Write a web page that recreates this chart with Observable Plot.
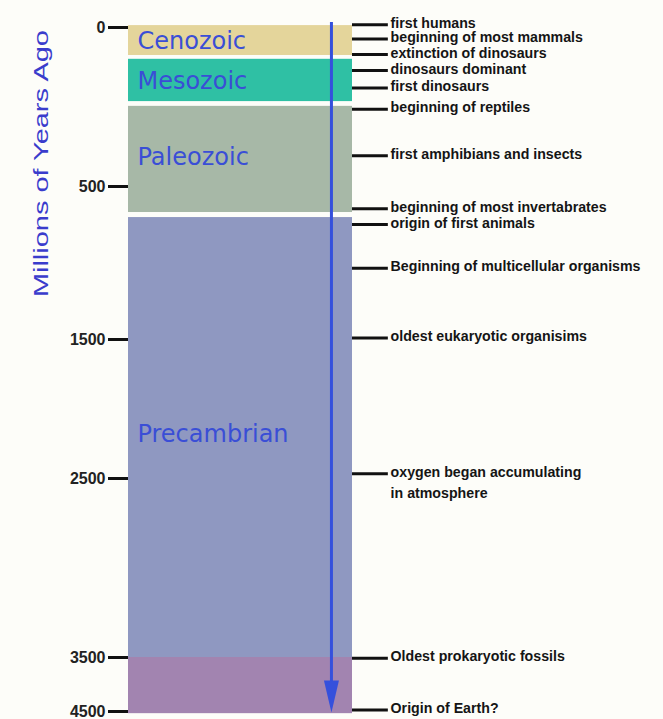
<!DOCTYPE html>
<html><head><meta charset="utf-8">
<script src="https://cdn.jsdelivr.net/npm/d3@7"></script>
<script src="https://cdn.jsdelivr.net/npm/@observablehq/plot@0.6"></script>
<style>
html,body{margin:0;padding:0;background:#fdfdf9;}
#chart svg{display:block;background:#fdfdf9;}
</style></head><body><div id="chart"></div>
<script>
// ---- data ----
const eraNames   = ["Cenozoic", "Mesozoic", "Paleozoic", "Precambrian", ""];
const eraStart   = [-6, 100, 248, 703, 3500];
const eraEnd     = [88, 233, 670, 3500, 4540];
const eraLabelAt = [44, 170, 409, 2183, null];
const eraColors  = ["#e4d59b", "#2fc0a4", "#a7b8a7", "#8f98c1", "#a284b0"];

const eventNames = [
  "first humans",
  "beginning of most mammals",
  "extinction of dinosaurs",
  "dinosaurs dominant",
  "first dinosaurs",
  "beginning of reptiles",
  "first amphibians and insects",
  "beginning of most invertabrates",
  "origin of first animals",
  "Beginning of multicellular organisms",
  "oldest eukaryotic organisims",
  "oxygen began accumulating\nin atmosphere",
  "Oldest prokaryotic fossils",
  "Origin of Earth?"
];
const eventAges = [-9, 36, 85, 135, 190, 257, 403, 646, 748, 1034, 1491, 2466, 3515, 4470];

const yTicks = [0, 500, 1500, 2500, 3500, 4500];
const axisTitle = "Millions of Years Ago";

// ---- tables ----
const eras = eraNames.map((name, i) => ({name, start: eraStart[i], end: eraEnd[i], labelAt: eraLabelAt[i], color: eraColors[i]}));
const events = eventNames.map((name, i) => ({name, age: eventAges[i]}));

const blue = "#3550dc";
const arrowX = 0.906;
const arrowHead = {
  draw(context) {
    context.moveTo(-7.5, -16);
    context.lineTo(7.5, -16);
    context.lineTo(0, 16);
    context.closePath();
  }
};

const chart = Plot.plot({
  width: 663,
  height: 719,
  marginLeft: 128,
  marginRight: 311,
  marginTop: 27,
  marginBottom: 8,
  style: {background: "#fdfdf9", fontFamily: "Liberation Sans, Arial, sans-serif", overflow: "visible"},
  x: {domain: [0, 1], axis: null},
  y: {type: "linear", domain: yTicks, range: [27, 186, 339, 478, 657, 711], axis: null},
  color: {type: "identity"},
  marks: [
    Plot.rect(eras, {x1: () => 0, x2: () => 1, y1: "start", y2: "end", fill: "color"}),
    Plot.text(eras.filter(d => d.name), {
      x: () => 0.04, y: "labelAt", text: "name", textAnchor: "start",
      fill: "#3a4ed6", fontSize: 24, fontFamily: "DejaVu Sans, sans-serif"
    }),
    Plot.ruleX([arrowX], {x: d => d, y1: () => -16, y2: () => 4150, stroke: blue, strokeWidth: 3}),
    Plot.dot([arrowX], {x: d => d, y: () => 4222, symbol: arrowHead, fill: blue, stroke: "none"}),
    Plot.axisY({
      ticks: yTicks, tickFormat: d => String(d), anchor: "left",
      tickSize: 20, tickPadding: 3, strokeWidth: 3, stroke: "#111",
      fontSize: 16, fontWeight: "bold", fill: "#222", label: null
    }),
    Plot.ruleY(events, {y: "age", x1: () => 1, x2: () => 1.16, stroke: "#111", strokeWidth: 3}),
    Plot.text(events, {
      x: () => 1.17, y: "age", text: "name", textAnchor: "start",
      lineAnchor: "top", dy: -12, lineHeight: 1.5,
      fontSize: 14.2, fontWeight: "bold", fill: "#151515"
    }),
    Plot.text([axisTitle], {
      x: () => -0.39, y: () => 428, text: d => d, rotate: -90,
      fill: "#3a3ccc", fontSize: 21, fontFamily: "Liberation Sans, Arial, sans-serif",
      className: "ytitle"
    })
  ]
});

d3.select(chart).selectAll(".ytitle text")
  .attr("textLength", 267)
  .attr("lengthAdjust", "spacingAndGlyphs");

document.getElementById("chart").appendChild(chart);
</script></body></html>
